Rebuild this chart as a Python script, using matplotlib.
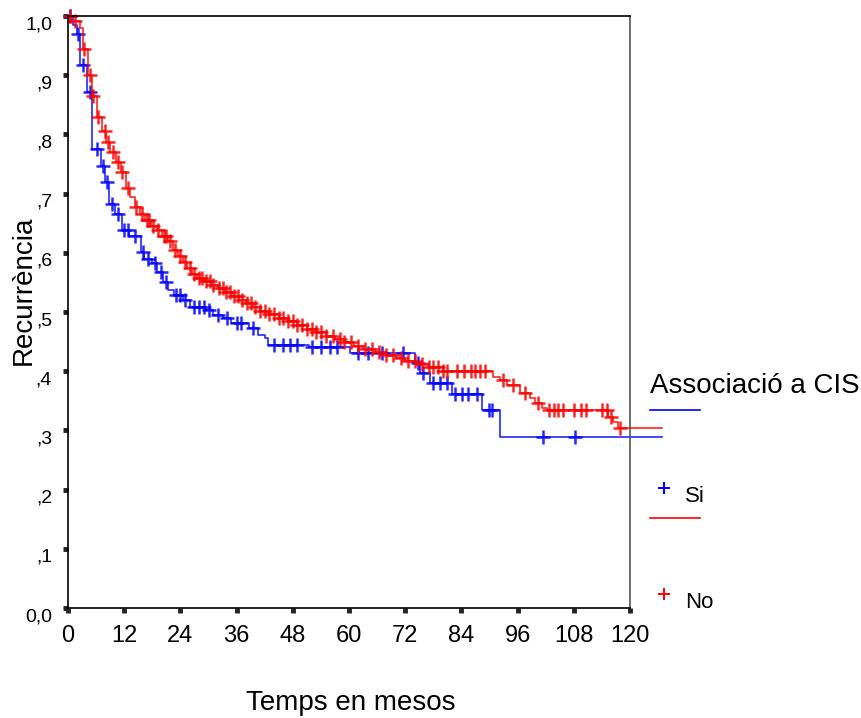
import numpy as np
import matplotlib
matplotlib.use("Agg")
from matplotlib import pyplot as plt
from matplotlib.lines import Line2D

plt.rcParams['font.family'] = ['Liberation Sans', 'DejaVu Sans']

# corba de supervivència, grup "No" (esglaons)
no_t = [0, 0.9, 2.5, 3.2, 4.3, 5.2, 6.2, 7.3, 8.1, 9.0, 10.2, 11.3, 12.4, 13.3,
        14.2, 15.3, 16.5, 17.7, 19.0, 20.0, 21.3, 22.5, 23.5, 24.6, 25.5, 26.5,
        27.5, 29.0, 30.5, 32.0, 33.5, 35.0, 36.5, 38.0, 39.5, 41.0, 43.0, 45.0,
        47.0, 49.0, 51.0, 53.0, 55.0, 57.0, 59.0, 61.0, 63.0, 65.5, 68.0, 70.0,
        72.0, 74.5, 77.0, 80.0, 90.7, 92.2, 93.7, 96.5, 98.7, 99.7, 101.2, 102.3,
        115.3, 116.3, 117.4]
no_s = [1.0, 0.992, 0.98, 0.945, 0.90, 0.865, 0.83, 0.805, 0.787, 0.77, 0.753,
        0.736, 0.71, 0.695, 0.677, 0.666, 0.655, 0.645, 0.638, 0.628, 0.62, 0.605,
        0.595, 0.585, 0.575, 0.565, 0.558, 0.552, 0.546, 0.54, 0.533, 0.527, 0.52,
        0.515, 0.508, 0.502, 0.496, 0.49, 0.485, 0.478, 0.472, 0.466, 0.46, 0.455,
        0.449, 0.443, 0.438, 0.433, 0.428, 0.423, 0.418, 0.413, 0.407, 0.40, 0.39,
        0.385, 0.377, 0.363, 0.355, 0.346, 0.338, 0.334, 0.323, 0.314, 0.304]
no_cens = [0.4, 1.5, 3.5, 4.6, 5.4, 6.4, 7.8, 8.6, 9.6, 10.7, 11.6, 12.8, 14.5,
           15.8, 16.8, 17.3, 18.2, 19.3, 20.4, 21.0, 21.8, 22.8, 24.0, 25.0, 26.0,
           27.0, 28.0, 28.7, 29.5, 30.3, 31.0, 32.2, 33.0, 33.8, 34.6, 35.5, 36.3,
           37.2, 38.2, 39.0, 40.0, 41.0, 42.0, 43.0, 44.0, 45.0, 46.0, 47.0, 48.0,
           49.0, 50.0, 51.0, 52.0, 53.0, 54.0, 55.0, 56.5, 58.0, 59.0, 60.5, 62.0,
           63.5, 65.0, 66.5, 68.0, 69.5, 71.0, 72.5, 74.0, 75.5, 77.0, 78.0, 79.0,
           80.0, 81.0, 83.0, 84.5, 86.0, 87.0, 88.0, 89.0, 92.8, 95.0, 97.5, 100.3,
           102.8, 103.8, 104.6, 105.6, 108.0, 109.5, 110.6, 114.0, 115.0, 116.0,
           117.8]

# grup "Si"
si_t = [0, 1.1, 2.0, 2.6, 4.1, 5.1, 7.0, 7.9, 8.8, 10.0, 11.5, 13.0, 15.5, 16.2,
        17.9, 19.0, 20.2, 21.4, 22.7, 24.6, 26.0, 29.5, 31.0, 33.0, 34.8, 38.7,
        40.5, 42.0, 42.8, 51.5, 60.2, 74.1, 75.2, 77.3, 82.0, 88.4, 92.2]
si_s = [1.0, 0.985, 0.97, 0.917, 0.872, 0.775, 0.747, 0.72, 0.682, 0.666, 0.639,
        0.628, 0.601, 0.59, 0.583, 0.568, 0.551, 0.537, 0.529, 0.52, 0.508, 0.503,
        0.495, 0.49, 0.481, 0.473, 0.461, 0.456, 0.445, 0.441, 0.431, 0.414, 0.397,
        0.38, 0.361, 0.334, 0.289]
si_cens = [0.5, 2.2, 3.2, 4.7, 6.2, 7.5, 8.3, 9.3, 10.6, 12.0, 12.8, 14.2, 16.0,
           17.0, 18.5, 19.8, 21.0, 23.0, 24.0, 25.0, 27.0, 28.0, 29.0, 30.0, 32.0,
           34.0, 36.0, 37.0, 39.5, 44.0, 46.0, 47.5, 49.0, 52.0, 54.0, 56.0, 57.5,
           62.0, 64.0, 67.0, 71.5, 74.7, 75.8, 78.0, 79.4, 81.0, 82.6, 84.1, 85.4,
           87.3, 89.9, 90.6, 101.5, 108.3]

t_max = 126.8
x_ticks = [0, 12, 24, 36, 48, 60, 72, 84, 96, 108, 120]
y_ticks = [0.0, 0.1, 0.2, 0.3, 0.4, 0.5, 0.6, 0.7, 0.8, 0.9, 1.0]
y_labels = ['0,0', ',1', ',2', ',3', ',4', ',5', ',6', ',7', ',8', ',9', '1,0']


def surv_at(tt, ss, x):
    idx = np.searchsorted(tt, x, side='right') - 1
    return np.array(ss)[idx]


def draw_km(ax, tt, ss, cens, col):
    t = list(tt) + [t_max]
    s = list(ss) + [ss[-1]]
    ax.step(t, s, where='post', color=col, lw=1.2, alpha=0.85, clip_on=False)
    ax.plot(cens, surv_at(tt, ss, cens), ls='none', marker='+', ms=9.5,
            mew=1.8, color=col, alpha=0.85, clip_on=False)


W, H = 861, 718
fig = plt.figure(figsize=(W / 100, H / 100), dpi=100)
ax = fig.add_axes([68 / W, 1 - 608 / H, (630 - 68) / W, (608 - 16) / H])

draw_km(ax, si_t, si_s, si_cens, '#0000ff')
draw_km(ax, no_t, no_s, no_cens, '#ff0000')

ax.set_xlim(0, 120)
ax.set_ylim(0, 1.0)
ax.set_xticks(x_ticks)
ax.set_yticks(y_ticks)
ax.set_yticklabels(y_labels)
ax.tick_params(direction='out', length=3.5, width=3.5, color='#222222')
ax.tick_params(axis='y', labelsize=14, pad=8)
ax.tick_params(axis='x', labelsize=17, pad=9)
for lab in ax.get_yticklabels():
    lab.set_va('top')
for sp in ax.spines.values():
    sp.set_linewidth(1.2)
ax.spines['right'].set_color('#555555')


def fx(px):
    return px / W


def fy(py):
    return 1 - py / H


# títols dels eixos
fig.text(fx(24), fy(290), 'Recurrència', fontsize=20, rotation=90,
         ha='center', va='center')
fig.text(fx(351), fy(703), 'Temps en mesos', fontsize=20,
         ha='center', va='center')

# llegenda dibuixada a mà
fig.text(fx(650), fy(386), 'Associació a CIS', fontsize=20, va='center')
fig.add_artist(Line2D([fx(650), fx(700)], [fy(410), fy(410)], color='#0000ff', lw=1.2))
fig.add_artist(Line2D([fx(664)], [fy(488)], marker='+', ms=9, mew=1.4, color='#0000ff'))
fig.text(fx(685), fy(496), 'Si', fontsize=16, va='center')
fig.add_artist(Line2D([fx(650), fx(700)], [fy(518), fy(518)], color='#ff0000', lw=1.2))
fig.add_artist(Line2D([fx(664)], [fy(594)], marker='+', ms=9, mew=1.4, color='#ff0000'))
fig.text(fx(685), fy(602), 'No', fontsize=16, va='center')

fig.savefig('out.png', dpi=100)
